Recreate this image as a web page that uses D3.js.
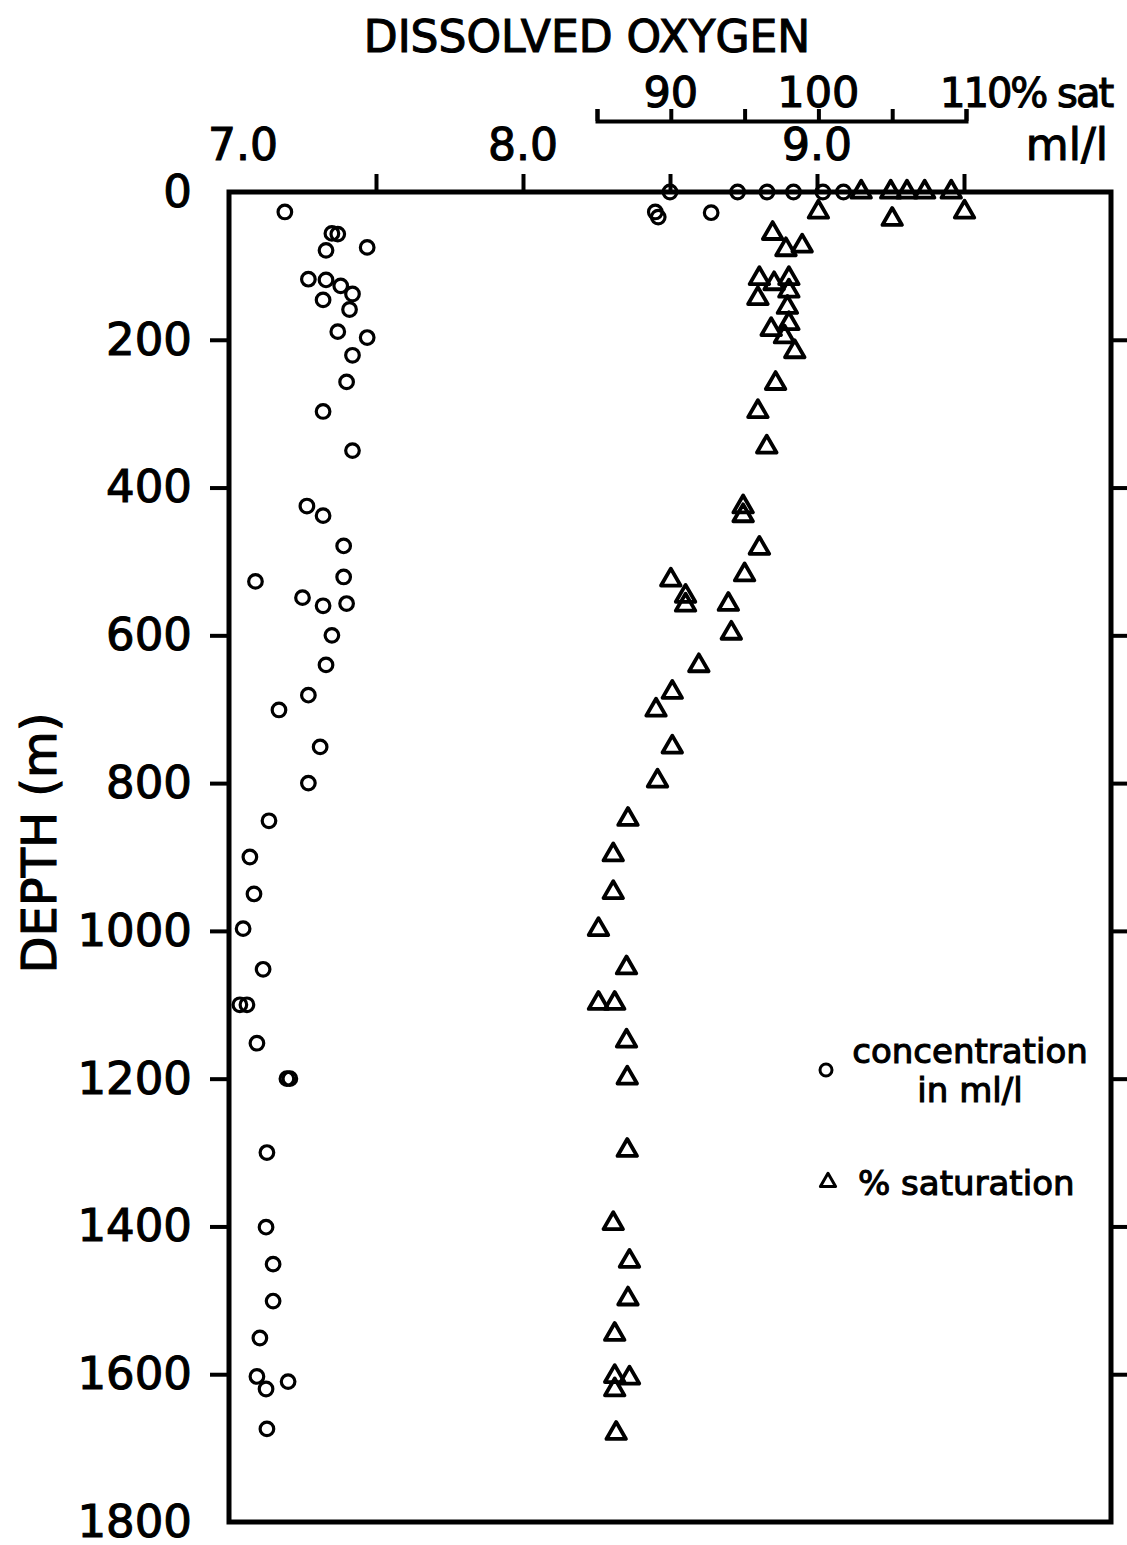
<!DOCTYPE html>
<html>
<head>
<meta charset="utf-8">
<script src="https://cdn.jsdelivr.net/npm/d3@7"></script>
<style>
  body { margin: 0; background: #fff; }
  text { font-family: "DejaVu Sans", sans-serif; fill: #000; stroke: #000; stroke-width: 1.1px; }
</style>
</head>
<body>
<svg id="chart"></svg>
<script>
// dissolved oxygen concentration (ml/l) against depth (m)
const concDepth = [0, 0, 0, 0, 0, 0, 27, 27, 34, 28, 56, 57, 75, 79, 118, 119, 127, 138, 146, 159,
  189, 197, 221, 257, 297, 350, 425, 438, 479, 527, 521, 549, 560, 557, 600, 640, 681, 701, 751, 800,
  851, 900, 950, 997, 1052, 1100, 1100, 1152, 1200, 1200, 1300, 1401, 1451, 1501, 1551, 1603, 1620, 1610, 1674]
const concValue = [8.50, 8.73, 8.83, 8.92, 9.02, 9.09, 7.19, 8.45, 8.46, 8.64, 7.35, 7.37, 7.47, 7.33, 7.27, 7.33, 7.38, 7.42, 7.32, 7.41,
  7.37, 7.47, 7.42, 7.40, 7.32, 7.42, 7.265, 7.32, 7.39, 7.09, 7.39, 7.25, 7.32, 7.40, 7.35, 7.33, 7.27, 7.17, 7.31, 7.27,
  7.136, 7.071, 7.085, 7.048, 7.116, 7.037, 7.061, 7.095, 7.197, 7.207, 7.129, 7.126, 7.150, 7.150, 7.105, 7.095, 7.126, 7.201, 7.129]

// percent saturation against depth (m)
const satDepth = [0, 0, 0, 0, 0, 27, 37, 27, 56, 78, 73, 117, 124, 117, 134, 144, 156, 178, 186, 196,
  216, 259, 297, 345, 426, 438, 482, 518, 525, 547, 559, 558, 597, 641, 677, 701, 751, 797, 849, 897,
  948, 998, 1050, 1098, 1098, 1149, 1199, 1297, 1396, 1447, 1498, 1546, 1603, 1605, 1621, 1680]
const satValue = [102.9, 104.9, 106.0, 107.2, 109.0, 100.0, 105.0, 109.9, 96.9, 97.8, 98.9, 96.0, 97.0, 98.0, 98.0, 95.9, 97.9, 98.0, 96.8, 97.7,
  98.4, 97.1, 95.9, 96.5, 94.9, 94.9, 96.0, 95.0, 90.0, 91.0, 91.0, 93.9, 94.1, 91.9, 90.1, 89.0, 90.1, 89.1, 87.1, 86.1,
  86.1, 85.1, 87.0, 85.1, 86.2, 87.0, 87.05, 87.05, 86.1, 87.2, 87.1, 86.2, 86.2, 87.2, 86.2, 86.3]

const depthTicks = [0, 200, 400, 600, 800, 1000, 1200, 1400, 1600, 1800]
const concTicks = [7.5, 8, 8.5, 9, 9.5]
const concLabels = [7, 8, 9]
const satTicks = [85, 90, 95, 100, 105, 110]
const satLabels = [90, 100, 110]
const legendLabels = [['concentration', 'in ml/l'], ['% saturation']]

const width = 1127, height = 1545
const box = {left: 229, top: 192, right: 1111, bottom: 1522}

const svg = d3.select('#chart').attr('width', width).attr('height', height)

const y = d3.scaleLinear().domain([0, 1800]).range([box.top, box.bottom])
const x = d3.scaleLinear().domain([7, 10]).range([box.left, box.right])
const xSat = d3.scaleLinear().domain([85, 110]).range([597, 966])

// frame
svg.append('rect')
  .attr('x', box.left).attr('y', box.top)
  .attr('width', box.right - box.left).attr('height', box.bottom - box.top)
  .attr('fill', 'none').attr('stroke', '#000').attr('stroke-width', 5)

// depth axis, left
const yAxis = svg.append('g')
  .attr('transform', `translate(${box.left},0)`)
  .call(d3.axisLeft(y).tickValues(depthTicks).tickFormat(d3.format('d'))
    .tickSizeInner(19).tickSizeOuter(0).tickPadding(18))
yAxis.select('.domain').remove()
yAxis.selectAll('.tick line').attr('stroke-width', 4)
  .filter(d => d === 0 || d === 1800).remove()
yAxis.selectAll('.tick text').attr('font-size', 45)

// depth ticks, right
const yRight = svg.append('g')
  .attr('transform', `translate(${box.right},0)`)
  .call(d3.axisRight(y).tickValues(depthTicks.slice(1, -1)).tickSize(18).tickFormat(''))
yRight.select('.domain').remove()
yRight.selectAll('.tick line').attr('stroke-width', 4)

svg.append('text')
  .attr('transform', `translate(56,843) rotate(-90)`)
  .attr('text-anchor', 'middle')
  .attr('font-size', 48)
  .text('DEPTH (m)')

// concentration axis, top
const xTop = svg.append('g')
  .attr('transform', `translate(0,${box.top})`)
  .call(d3.axisTop(x).tickValues(concTicks).tickSize(18).tickFormat(''))
xTop.select('.domain').remove()
xTop.selectAll('.tick line').attr('stroke-width', 4)

svg.append('g').selectAll('text').data(concLabels).join('text')
  .attr('x', d => x(d) + (d === 7 ? 14 : 0))
  .attr('y', 160)
  .attr('text-anchor', 'middle')
  .attr('font-size', 44)
  .text(d3.format('.1f'))

svg.append('text')
  .attr('x', 1108).attr('y', 160)
  .attr('text-anchor', 'end')
  .attr('font-size', 44)
  .text('ml/l')

// saturation scale bar
const satAxis = svg.append('g')
  .attr('transform', 'translate(0,121)')
  .call(d3.axisTop(xSat).tickValues(satTicks).tickSizeInner(12).tickSizeOuter(12).tickFormat(''))
satAxis.select('.domain').attr('stroke-width', 4)
satAxis.selectAll('.tick line').attr('stroke-width', 4)

svg.append('g').selectAll('text').data(satLabels).join('text')
  .attr('x', d => d === 110 ? xSat(d) - 26 : xSat(d))
  .attr('y', 107)
  .attr('text-anchor', d => d === 110 ? 'start' : 'middle')
  .attr('font-size', d => d === 110 ? 40 : 43)
  .attr('letter-spacing', d => d === 110 ? -2 : 0)
  .text(d => d === 110 ? d + '% sat' : d)

svg.append('text')
  .attr('x', 587).attr('y', 52)
  .attr('text-anchor', 'middle')
  .attr('font-size', 44)
  .text('DISSOLVED OXYGEN')

// points
const circleData = concDepth.map((d, i) => ({depth: d, value: concValue[i]}))
const triData = satDepth.map((d, i) => ({depth: d, value: satValue[i]}))

svg.append('g').selectAll('circle').data(circleData).join('circle')
  .attr('cx', d => x(d.value))
  .attr('cy', d => y(d.depth))
  .attr('r', 6.8)
  .attr('fill', 'none')
  .attr('stroke', '#000')
  .attr('stroke-width', 3.2)

const tri = d3.symbol().type(d3.symbolTriangle).size(165)
svg.append('g').selectAll('path').data(triData).join('path')
  .attr('d', tri)
  .attr('transform', d => `translate(${xSat(d.value)},${y(d.depth)})`)
  .attr('fill', 'none')
  .attr('stroke', '#000')
  .attr('stroke-width', 3.8)
  .attr('stroke-linejoin', 'round')

// legend
const legend = svg.append('g')
legend.append('circle')
  .attr('cx', 826).attr('cy', 1070).attr('r', 6)
  .attr('fill', 'none').attr('stroke', '#000').attr('stroke-width', 3)
legend.append('text')
  .attr('x', 970).attr('y', 1063)
  .attr('text-anchor', 'middle')
  .attr('font-size', 34)
  .selectAll('tspan').data(legendLabels[0]).join('tspan')
  .attr('x', 970)
  .attr('dy', (d, i) => i ? 39 : 0)
  .text(d => d)
legend.append('path')
  .attr('d', d3.symbol().type(d3.symbolTriangle).size(100))
  .attr('transform', 'translate(828,1182)')
  .attr('fill', 'none').attr('stroke', '#000').attr('stroke-width', 3)
  .attr('stroke-linejoin', 'round')
legend.append('text')
  .attr('x', 858).attr('y', 1195)
  .attr('font-size', 34)
  .text(legendLabels[1][0])
</script>
</body>
</html>
